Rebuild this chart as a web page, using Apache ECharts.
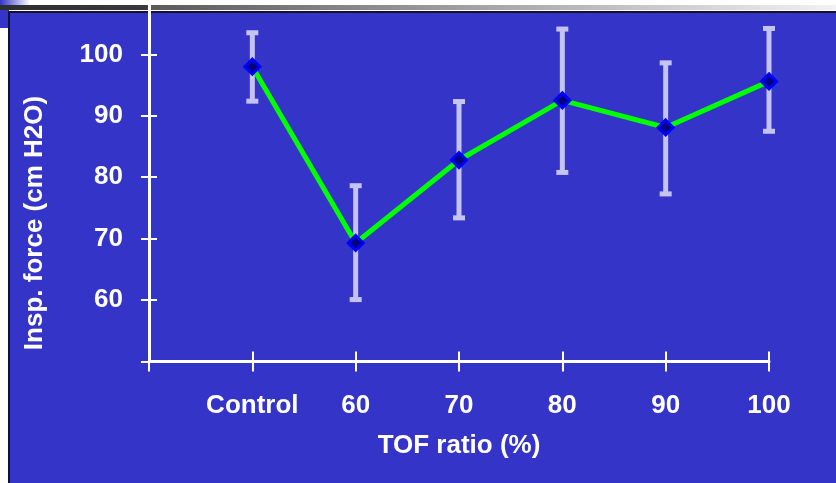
<!DOCTYPE html>
<html>
<head>
<meta charset="utf-8">
<script src="https://cdn.jsdelivr.net/npm/echarts@6/dist/echarts.min.js"></script>
<style>
html,body{margin:0;padding:0;background:#fff;}
#c{width:836px;height:483px;}
</style>
</head>
<body>
<div id="c"></div>
<script>
const categories = ['', 'Control', '60', '70', '80', '90', '100'];
const meanValues = [null, 98.0, 69.3, 82.8, 92.5, 88.1, 95.6];
const lowValues = [null, 92.3, 60.0, 73.3, 80.7, 77.2, 87.4];
const highValues = [null, 103.6, 78.7, 92.4, 104.2, 98.7, 104.3];
const yTickValues = [50, 60, 70, 80, 90, 100];
const yLabelValues = [60, 70, 80, 90, 100];
const xAxisTitle = 'TOF ratio (%)';
const yAxisTitle = 'Insp. force (cm H2O)';

const FONT = '"Liberation Sans", Arial, sans-serif';
const FS = 26;
const errData = [];
for (let i = 0; i < categories.length; i++) {
  if (lowValues[i] != null) errData.push([i, lowValues[i], highValues[i]]);
}

const chart = echarts.init(document.getElementById('c'), null, {renderer: 'canvas'});
const yBase = {
  type: 'value', min: 50, max: 108.85, position: 'left',
  splitLine: {show: false}
};
const option = {
  backgroundColor: '#ffffff',
  animation: false,
  graphic: [
    {type: 'rect', z: -10, shape: {x: 0, y: 5, width: 836, height: 5},
     style: {fill: new echarts.graphic.LinearGradient(0, 0, 1, 0, [
       {offset: 0, color: '#2e2e2e'}, {offset: 0.175, color: '#3a3a3a'},
       {offset: 0.18, color: '#5a5a5a'}, {offset: 1, color: '#f2f2f2'}])}},
    {type: 'rect', z: -10, shape: {x: 0, y: 0, width: 30, height: 5},
     style: {fill: new echarts.graphic.LinearGradient(0, 0, 1, 0, [
       {offset: 0, color: '#3434c8'}, {offset: 1, color: '#ffffff'}])}},
    {type: 'rect', z: -10, shape: {x: 0, y: 10, width: 9, height: 18},
     style: {fill: '#3434c8'}},
    {type: 'rect', z: -9, shape: {x: 9, y: 12, width: 830, height: 475},
     style: {fill: '#3434c8', stroke: '#111133', lineWidth: 2}},
    {type: 'text', z: 10, x: 35, y: 223, rotation: Math.PI / 2,
     style: {text: yAxisTitle, fill: '#ffffff', font: 'bold ' + FS + 'px ' + FONT,
             align: 'center', verticalAlign: 'middle'}},
    {type: 'text', z: 10, x: 459, y: 446,
     style: {text: xAxisTitle, fill: '#ffffff', font: 'bold ' + FS + 'px ' + FONT,
             align: 'center', verticalAlign: 'middle'}}
  ],
  grid: {left: 149, right: 67, top: 0, bottom: 121.5, containLabel: false},
  xAxis: [
    {type: 'category', data: categories, boundaryGap: false,
     axisLine: {show: true, lineStyle: {color: '#ffffff', width: 3}},
     axisTick: {show: true, interval: 0, length: 10, lineStyle: {color: '#ffffff', width: 2}},
     axisLabel: {color: '#ffffff', fontFamily: FONT, fontWeight: 'bold', fontSize: FS, margin: 31,
                 interval: 0, hideOverlap: false},
     splitLine: {show: false}},
    {type: 'category', data: categories, boundaryGap: false, position: 'bottom', offset: -10,
     axisLine: {show: false},
     axisTick: {show: true, interval: 0, length: 10, lineStyle: {color: '#ffffff', width: 2}},
     axisLabel: {show: false}, splitLine: {show: false}}
  ],
  yAxis: [
    Object.assign({}, yBase, {
      offset: 0,
      axisLine: {show: true, onZero: false, lineStyle: {color: '#ffffff', width: 3}},
      axisTick: {show: false},
      axisLabel: {color: '#ffffff', fontFamily: FONT, fontWeight: 'bold', fontSize: FS, margin: 26,
                  customValues: yLabelValues}
    }),
    Object.assign({}, yBase, {
      offset: -8,
      axisLine: {show: false, onZero: false},
      axisTick: {show: true, length: 16, customValues: yTickValues, lineStyle: {color: '#ffffff', width: 2}},
      axisLabel: {show: false}
    })
  ],
  series: [
    {type: 'custom', z: 1, xAxisIndex: 0, yAxisIndex: 0, data: errData,
     renderItem: function (params, api) {
       const x = api.value(0);
       const lo = api.coord([x, api.value(1)]);
       const hi = api.coord([x, api.value(2)]);
       const col = '#c4c4f4';
       return {type: 'group', children: [
         {type: 'rect', shape: {x: lo[0] - 2.5, y: hi[1], width: 5, height: lo[1] - hi[1]}, style: {fill: col}},
         {type: 'rect', shape: {x: hi[0] - 6, y: hi[1] - 2, width: 12, height: 5}, style: {fill: col}},
         {type: 'rect', shape: {x: lo[0] - 6, y: lo[1] - 3, width: 12, height: 5}, style: {fill: col}}
       ]};
     }},
    {type: 'line', z: 3, data: meanValues, connectNulls: false,
     lineStyle: {color: '#00ff00', width: 5},
     symbol: 'diamond', symbolSize: 15, showSymbol: true,
     itemStyle: {color: '#000080', borderColor: '#0000ff', borderWidth: 3}}
  ]
};
chart.setOption(option);
</script>
</body>
</html>
